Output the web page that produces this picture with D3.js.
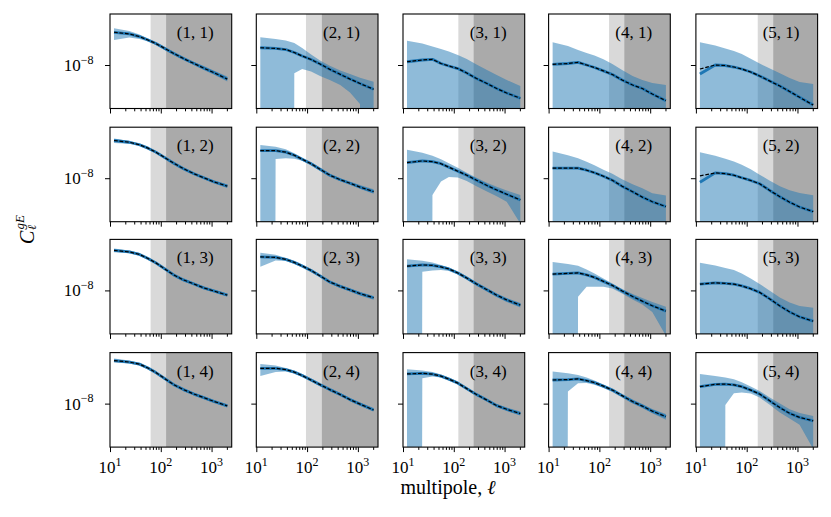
<!DOCTYPE html>
<html>
<head>
<meta charset="utf-8">
<script src="https://cdn.jsdelivr.net/npm/d3@7"></script>
<style>
  body { margin: 0; background: #fff; }
  svg text { font-family: "Liberation Serif", "Times New Roman", "DejaVu Serif", serif; fill: #000; }
</style>
</head>
<body>
<svg id="chart" width="831" height="517"></svg>
<script>
"use strict";

// multipole bins shared by every panel
const ells = [12, 24, 38, 56, 80, 120, 180, 280, 450, 700, 1100, 2040];

// scale cuts per lens bin (column): light grey from cutLow, dark grey from cutHigh
const cutLow = [63, 95, 123, 155, 165];
const cutHigh = [127, 194, 244, 308, 332];

const xMajor = [10, 100, 1000];
const xMinor = [20, 30, 40, 50, 60, 70, 80, 90, 200, 300, 400, 500, 600, 700, 800, 900, 2000];

// C_ell^{gE} in units of 1e-8, rows = source bin, columns = lens bin
const modelCl = [
  [[54, 44, 32, 21, 13.7, 7.5, 4.1, 2.2, 1.2, 0.69, 0.40, 0.18],
   [8.2, 7.5, 6.6, 4.6, 3.0, 1.95, 1.13, 0.59, 0.32, 0.18, 0.105, 0.052],
   [1.49, 1.84, 2.0, 1.2, 0.885, 0.65, 0.377, 0.193, 0.105, 0.057, 0.033, 0.0174],
   [1.09, 1.2, 1.39, 1.0, 0.74, 0.49, 0.315, 0.161, 0.087, 0.057, 0.029, 0.013],
   [0.334, 1.0, 0.94, 0.784, 0.614, 0.426, 0.262, 0.145, 0.077, 0.040, 0.0195, 0.0076]],
  [[99, 80, 59, 39, 24, 12.2, 6.2, 3.2, 1.73, 1.06, 0.65, 0.38],
   [29, 29, 23.8, 16.5, 10.1, 5.85, 3.0, 1.44, 0.83, 0.544, 0.34, 0.196],
   [6.7, 8.2, 7.5, 5.85, 3.82, 2.35, 1.44, 0.78, 0.41, 0.24, 0.142, 0.071],
   [3.38, 3.38, 3.38, 2.65, 1.95, 1.28, 0.78, 0.377, 0.193, 0.1, 0.057, 0.0315],
   [0.614, 1.91, 1.73, 1.44, 1.06, 0.76, 0.51, 0.232, 0.105, 0.054, 0.03, 0.017]],
  [[131, 109, 80, 49, 28.6, 13.7, 6.6, 3.6, 2.2, 1.36, 0.94, 0.56],
   [59.5, 55.8, 43.8, 30.4, 19.8, 11.4, 5.85, 2.8, 1.63, 1.06, 0.68, 0.41],
   [19.3, 22.2, 21, 17.5, 13.7, 8.4, 4.5, 2.2, 1.09, 0.56, 0.315, 0.167],
   [7.3, 7.94, 8.5, 6.6, 4.88, 3.0, 1.84, 0.94, 0.48, 0.27, 0.155, 0.08],
   [2.15, 2.52, 2.35, 2.15, 1.73, 1.23, 0.784, 0.365, 0.151, 0.073, 0.04, 0.0235]],
  [[189, 158, 123, 76, 44, 21, 10.1, 5.5, 3.2, 2.08, 1.32, 0.76],
   [74, 74, 63, 46.5, 30.4, 17.5, 10.1, 5.5, 3.0, 1.63, 0.94, 0.46],
   [37, 40, 36.5, 28.6, 19.8, 12.2, 6.2, 3.0, 1.53, 0.784, 0.5, 0.296],
   [17.8, 18.6, 20.3, 16.5, 12.9, 8.4, 5.2, 2.65, 1.28, 0.74, 0.40, 0.205],
   [7.94, 10.5, 10.8, 9.8, 7.94, 5.2, 3.2, 1.44, 0.614, 0.305, 0.186, 0.123]]
];

// first point of the dashed fit where it differs from the solid line
const fitFirst = [
  [null, null, null, null, 0.614],
  [null, null, null, null, 1.32],
  [null, null, null, null, null],
  [null, null, null, null, null]
];

// upper edge of the error band
const upperCl = [
  [[88, 63, 41, 25, 16.5, 9.0, 4.9, 2.65, 1.44, 0.89, 0.51, 0.25],
   [29.3, 23.8, 19.8, 14.6, 7.9, 3.6, 1.73, 0.91, 0.52, 0.334, 0.21, 0.13],
   [19.3, 13.7, 9.5, 7.0, 5.2, 3.38, 2.08, 1.06, 0.54, 0.296, 0.161, 0.077],
   [15.9, 10.1, 6.2, 4.3, 3.2, 2.0, 1.13, 0.54, 0.26, 0.161, 0.111, 0.087],
   [15.9, 10.8, 7.5, 5.5, 3.8, 2.15, 1.2, 0.67, 0.365, 0.205, 0.126, 0.099]],
  [[125, 94, 70, 45, 28, 14.2, 7.3, 3.74, 2.03, 1.25, 0.78, 0.47],
   [57.6, 46.5, 34.3, 21, 12.2, 7.0, 3.6, 1.73, 1.0, 0.65, 0.435, 0.262],
   [31.6, 22.4, 15.5, 10.1, 6.2, 3.6, 1.95, 1.06, 0.58, 0.355, 0.223, 0.13],
   [25.6, 16.5, 11.4, 7.5, 4.9, 2.8, 1.73, 0.885, 0.48, 0.296, 0.161, 0.121],
   [23.8, 15.5, 10.8, 7.6, 5.2, 3.0, 1.53, 0.76, 0.377, 0.232, 0.165, 0.126]],
  [[167, 131, 94, 57.6, 33.5, 16.1, 7.8, 4.2, 2.6, 1.59, 1.10, 0.68],
   [98, 76, 52.5, 36.5, 23.8, 13.7, 7.0, 3.38, 1.95, 1.28, 0.83, 0.51],
   [45, 36.8, 30.4, 22.4, 16.5, 10.1, 5.4, 2.65, 1.31, 0.694, 0.40, 0.218],
   [31.6, 25.3, 20, 12.9, 7.94, 4.32, 2.35, 1.2, 0.65, 0.40, 0.24, 0.136],
   [29, 21, 15.5, 11.9, 7.94, 4.32, 2.2, 1.0, 0.426, 0.232, 0.151, 0.121]],
  [[241, 189, 145, 89, 51, 24.6, 11.9, 6.4, 3.74, 2.43, 1.55, 0.89],
   [125, 103, 76, 55.8, 36.5, 21, 12.2, 6.6, 3.6, 1.95, 1.13, 0.58],
   [66, 55.8, 46.5, 34.3, 23.8, 14.6, 7.5, 3.6, 1.84, 0.94, 0.614, 0.377],
   [49.4, 41, 33, 23.8, 16.5, 10.1, 6.2, 3.2, 1.63, 0.94, 0.52, 0.285],
   [37, 29.3, 23.8, 19.3, 13.7, 7.94, 4.6, 2.2, 1.0, 0.51, 0.315, 0.223]]
];

// lower edge of the error band; null = not positive (band runs off the bottom)
const lowerCl = [
  [[21, 28.6, 23.8, 17.5, 11.4, 6.2, 3.4, 1.84, 1.0, 0.54, 0.315, 0.134],
   [null, null, null, 0.365, 0.61, 0.45, 0.26, 0.161, 0.087, 0.035, 0.0086, null],
   null,
   null,
   null],
  [[73, 67, 50.6, 33, 20.3, 10.4, 5.3, 2.7, 1.48, 0.91, 0.54, 0.30],
   [null, 10.5, 11.4, 10.8, 8.4, 4.9, 2.5, 1.2, 0.694, 0.45, 0.28, 0.151],
   [null, null, 0.13, 0.66, 1.17, 1.09, 0.71, 0.377, 0.2, 0.111, 0.057, 0.004],
   null,
   null],
  [[103, 93, 69, 42, 24.4, 11.7, 5.6, 3.07, 1.88, 1.16, 0.80, 0.47],
   [17.8, 38.7, 36.5, 25.3, 16.5, 9.5, 4.9, 2.35, 1.36, 0.885, 0.544, 0.32],
   [null, 9.7, 11.4, 12.2, 10.8, 7.0, 3.74, 1.84, 0.885, 0.45, 0.247, 0.126],
   [null, null, 0.46, 1.55, 1.55, 1.55, 1.28, 0.694, 0.334, 0.181, 0.073, 0.004],
   null],
  [[148, 134, 104, 64.5, 37, 17.8, 8.7, 4.7, 2.7, 1.77, 1.13, 0.63],
   [29.3, 46.5, 49.4, 38.7, 25.3, 14.6, 8.4, 4.6, 2.5, 1.36, 0.784, 0.377],
   [null, 22, 26.9, 23.8, 16.5, 10.1, 5.2, 2.5, 1.28, 0.65, 0.41, 0.232],
   [null, 4.32, 12, 12.2, 10.1, 6.8, 4.06, 2.08, 1.0, 0.58, 0.305, 0.142],
   [null, null, 0.85, 3.5, 3.82, 3.45, 2.08, 0.885, 0.334, 0.161, 0.077, 0.004]]
];

const UNIT = 1e-8;

// layout
const W = 121.7, H = 94.5;
const colX = [110, 256.3, 403, 548.6, 695.9];
const rowY = [14, 127.2, 239.4, 352.6];
const FAR = H * 60;   // where a non-positive lower bound lands, way under the frame

const x = d3.scaleLog().domain([10, 2490]).range([0, W]);
const y = d3.scaleLog().domain([5e-11, 5e-6]).range([H, 0]);

const band = d3.area()
  .x(d => x(d.ell))
  .y0(d => d.lo == null ? FAR : y(d.lo * UNIT))
  .y1(d => y(d.hi * UNIT));

const line = d3.line()
  .x(d => x(d[0]))
  .y(d => y(d[1] * UNIT));

const svg = d3.select("#chart");

function supLabel(sel, base, exp) {
  sel.append("tspan").text(base);
  sel.append("tspan").attr("dy", -7.5).attr("font-size", 12).text(exp);
}

rowY.forEach((top, r) => {
  colX.forEach((left, c) => {
    const g = svg.append("g").attr("transform", `translate(${left},${top})`);
    const id = `clip-${r}-${c}`;
    g.append("clipPath").attr("id", id)
      .append("rect").attr("width", W).attr("height", H);

    const inner = g.append("g").attr("clip-path", `url(#${id})`);

    // scale cuts
    inner.append("rect")
      .attr("x", x(cutLow[c])).attr("width", x(cutHigh[c]) - x(cutLow[c]))
      .attr("height", H).attr("fill", "#d9d9d9");
    inner.append("rect")
      .attr("x", x(cutHigh[c])).attr("width", W - x(cutHigh[c]))
      .attr("height", H).attr("fill", "#aaaaaa");

    // error band
    const lo = lowerCl[r][c];
    const pts = ells.map((ell, i) => ({ ell, hi: upperCl[r][c][i], lo: lo ? lo[i] : null }));
    inner.append("path")
      .attr("d", band(pts))
      .attr("fill", "#1f77b4")
      .attr("fill-opacity", 0.5);

    // measured (solid) and fit (dashed)
    const m = ells.map((ell, i) => [ell, modelCl[r][c][i]]);
    inner.append("path")
      .attr("d", line(m))
      .attr("fill", "none")
      .attr("stroke", "#1f77b4")
      .attr("stroke-width", 2.8)
      .attr("stroke-linejoin", "round");

    const f = m.slice();
    if (fitFirst[r][c] != null) f[0] = [ells[0], fitFirst[r][c]];
    inner.append("path")
      .attr("d", line(f))
      .attr("fill", "none")
      .attr("stroke", "#000")
      .attr("stroke-width", 1.2)
      .attr("stroke-dasharray", "3.7,1.8");

    g.append("text")
      .attr("x", W * 0.70).attr("y", 24)
      .attr("text-anchor", "middle")
      .attr("font-size", 17)
      .text(`(${c + 1}, ${r + 1})`);

    // ticks
    const xa = g.append("g").attr("transform", `translate(0,${H})`)
      .call(d3.axisBottom(x).tickValues(xMajor).tickSize(5).tickFormat(""));
    const xm = g.append("g").attr("transform", `translate(0,${H})`)
      .call(d3.axisBottom(x).tickValues(xMinor).tickSize(2.8).tickFormat(""));
    const ya = g.append("g")
      .call(d3.axisLeft(y).tickValues([1e-8]).tickSize(5).tickFormat(""));
    [xa, xm, ya].forEach(a => {
      a.select(".domain").remove();
      a.selectAll(".tick line").attr("stroke-width", 1);
    });

    g.append("rect")
      .attr("width", W).attr("height", H)
      .attr("fill", "none").attr("stroke", "#000").attr("stroke-width", 1.1);

    if (r === rowY.length - 1) {
      xMajor.forEach(v => {
        const t = g.append("text")
          .attr("x", x(v)).attr("y", H + 26)
          .attr("text-anchor", "middle")
          .attr("font-size", 17);
        supLabel(t, "10", String(Math.round(Math.log10(v))));
      });
    }
    if (c === 0) {
      const t = g.append("text")
        .attr("x", -16.5).attr("y", y(1e-8) + 6)
        .attr("text-anchor", "end")
        .attr("font-size", 17);
      supLabel(t, "10", "\u22128");
    }
  });
});

// axis titles
const xl = svg.append("text")
  .attr("x", 448).attr("y", 494)
  .attr("text-anchor", "middle")
  .attr("font-size", 20);
xl.append("tspan").text("multipole, ");
xl.append("tspan").attr("font-style", "italic").text("\u2113");

const yl = svg.append("g").attr("transform", "translate(33.5,244) rotate(-90)");
yl.append("text").attr("font-size", 20).attr("font-style", "italic").text("C");
yl.append("text").attr("x", 14.5).attr("y", -10).attr("font-size", 13)
  .attr("font-style", "italic").text("gE");
yl.append("text").attr("x", 14).attr("y", 2.5).attr("font-size", 12)
  .attr("font-style", "italic").text("\u2113");
</script>
</body>
</html>
